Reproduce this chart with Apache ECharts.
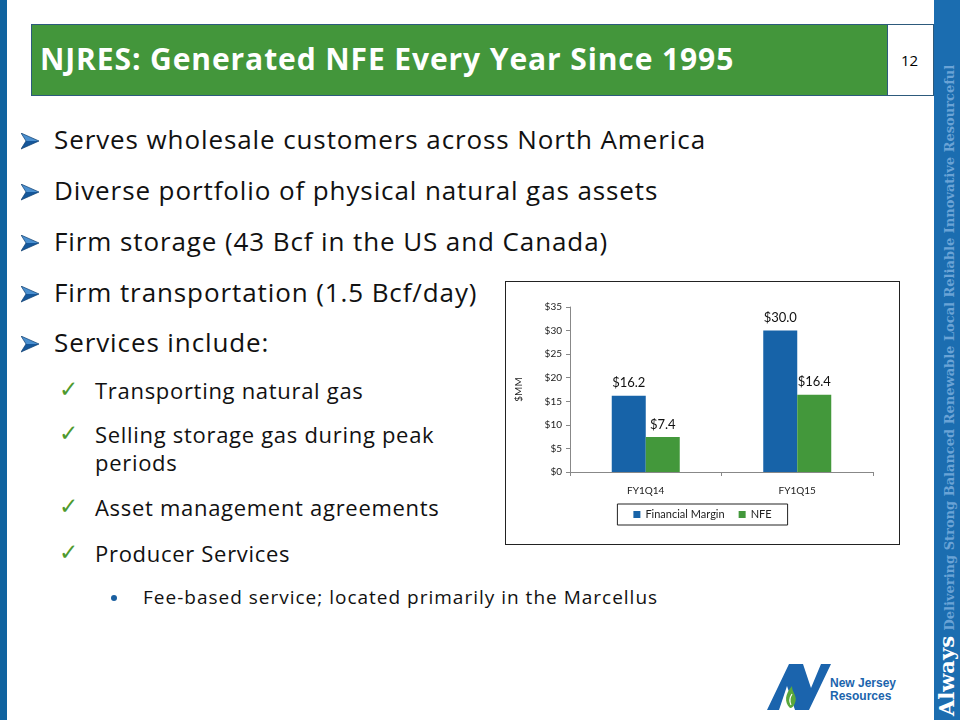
<!DOCTYPE html>
<html>
<head>
<meta charset="utf-8">
<script src="https://cdn.jsdelivr.net/npm/echarts@6/dist/echarts.min.js"></script>
<style>
    body { margin: 0; width: 960px; height: 720px; background: #fff; position: relative; overflow: hidden; font-family: "Open Sans", Lato, sans-serif; }
    .abs { position: absolute; white-space: nowrap; }
    #leftStrip { left: 0; top: 0; width: 7px; height: 720px; background: #10639f; }
    #rightStrip { left: 934px; top: 0; width: 26px; height: 720px; background: #1b6db0; }
    #header { left: 31px; top: 24px; width: 857px; height: 72px; background: #43963b; border: 1px solid #2d5a7c; box-sizing: border-box; }
    #title { left: 40px; top: 38px; color: #fff; font-weight: bold; font-size: 30px; font-family: "Open Sans", Lato, sans-serif; letter-spacing: 0.9px; }
    #pageBox { left: 888px; top: 24px; width: 46px; height: 72px; border: 1px solid #2d5a7c; border-left: none; box-sizing: border-box; }
    #pageNo { left: 901px; top: 50px; font-size: 15px; color: #000; }
    .l1 { font-size: 26px; color: #111; letter-spacing: 0.9px; }
    .l2 { font-size: 22px; color: #111; letter-spacing: 0.7px; }
    .check { font-size: 23px; color: #4e9a2e; font-family: "DejaVu Sans"; }
    .l3 { font-size: 19px; color: #111; letter-spacing: 1px; }
    #dot { left: 111px; top: 595px; width: 6px; height: 6px; border-radius: 3px; background: #1a5fa0; }
    #chart { left: 505px; top: 281px; width: 395px; height: 264px; border: 1px solid #222; box-sizing: border-box; }
    #vtext { left: 934px; top: 716px; transform-origin: 0 0; transform: rotate(-90deg); font-family: "DejaVu Serif", serif; font-weight: bold; line-height: 26px; }
</style>
</head>
<body>
<div class="abs" id="leftStrip"></div>
<div class="abs" id="rightStrip"></div>
<div class="abs" id="header"></div>
<div class="abs" id="title">NJRES: Generated NFE Every Year Since 1995</div>
<div class="abs" id="pageBox"></div>
<div class="abs" id="pageNo">12</div>

<svg width="0" height="0" style="position:absolute">
    <defs>
        <g id="arr">
            <polygon points="0,0 18,8 5,8" fill="#4a8fcf"/>
            <polygon points="0,16 18,8 5,8" fill="#15579a"/>
            <polygon points="0,0 18,8 0,16 5,8" fill="none" stroke="#0e3f70" stroke-width="0.7"/>
        </g>
    </defs>
</svg>
<svg class="abs" style="left:21px;top:133px" width="20" height="18"><use href="#arr"/></svg>
<div class="abs l1" style="left:54px;top:121px">Serves wholesale customers across North America</div>
<svg class="abs" style="left:21px;top:184px" width="20" height="18"><use href="#arr"/></svg>
<div class="abs l1" style="left:54px;top:172px">Diverse portfolio of physical natural gas assets</div>
<svg class="abs" style="left:21px;top:235px" width="20" height="18"><use href="#arr"/></svg>
<div class="abs l1" style="left:54px;top:223px">Firm storage (43 Bcf in the US and Canada)</div>
<svg class="abs" style="left:21px;top:286px" width="20" height="18"><use href="#arr"/></svg>
<div class="abs l1" style="left:54px;top:274px">Firm transportation (1.5 Bcf/day)</div>
<svg class="abs" style="left:21px;top:336px" width="20" height="18"><use href="#arr"/></svg>
<div class="abs l1" style="left:54px;top:324px">Services include:</div>

<div class="abs check" style="left:59px;top:376px">&#10003;</div>
<div class="abs l2" style="left:95px;top:375px">Transporting natural gas</div>
<div class="abs check" style="left:59px;top:420px">&#10003;</div>
<div class="abs l2" style="left:95px;top:419px">Selling storage gas during peak</div>
<div class="abs l2" style="left:95px;top:447px">periods</div>
<div class="abs check" style="left:59px;top:493px">&#10003;</div>
<div class="abs l2" style="left:95px;top:492px">Asset management agreements</div>
<div class="abs check" style="left:59px;top:539px">&#10003;</div>
<div class="abs l2" style="left:95px;top:538px">Producer Services</div>
<div class="abs" id="dot"></div>
<div class="abs l3" style="left:143px;top:584px">Fee-based service; located primarily in the Marcellus</div>

<div class="abs" id="vtext"><span style="color:#fff;font-size:21px">Always</span> <span style="color:#6aa3d6;font-size:13px">Delivering Strong Balanced Renewable Local Reliable Innovative Resourceful</span></div>

<svg class="abs" style="left:765px;top:662px" width="70" height="50" viewBox="0 0 70 50">
    <polygon points="2,48 24,2 38,2 46,26 56,2 66,2 44,48 30,48 22,24 14,48" fill="#1b64ad"/>
    <path d="M25,46 C19,40 20,32 27,24 C27,31 33,34 30,41 C29,44 27,46 25,46 Z" fill="#5aa83c"/>
    <path d="M26,43 C24,39 25,35 27,32" stroke="#fff" stroke-width="1.2" fill="none"/>
</svg>
<div class="abs" style="left:830px;top:677px;font-family:'Liberation Sans',Arial,sans-serif;font-weight:bold;font-size:12px;line-height:13px;color:#1b64ad">New Jersey<br>Resources</div>

<div class="abs" id="chart"></div>

<script>
    //数据
    var categories = ['FY1Q14', 'FY1Q15'];
    var marginData = [16.2, 30.0];
    var nfeData = [7.4, 16.4];
    var yTicks = [0, 5, 10, 15, 20, 25, 30, 35];

    var myChart = echarts.init(document.getElementById('chart'));
    var labelStyle = {
        show: true,
        position: 'top',
        distance: 6,
        color: '#111',
        fontSize: 13,
        fontFamily: 'Lato',
        formatter: function (p) {
            return '$' + p.value.toFixed(1);
        }
    };
    var option = {
        animation: false,
        grid: { left: 62, right: 26, top: 25, bottom: 72 },
        legend: {
            data: ['Financial Margin', 'NFE'],
            top: 222,
            left: 'center',
            borderColor: '#222',
            borderWidth: 1,
            padding: [5, 16, 5, 16],
            itemWidth: 7,
            itemHeight: 7,
            itemGap: 14,
            icon: 'rect',
            textStyle: { fontSize: 11, color: '#222', fontFamily: 'Lato' }
        },
        xAxis: {
            type: 'category',
            data: categories,
            axisLine: { lineStyle: { color: '#888' } },
            axisTick: { show: true, length: 4, lineStyle: { color: '#888' } },
            axisLabel: { fontSize: 10, color: '#222', margin: 14, fontFamily: 'Lato' }
        },
        yAxis: {
            type: 'value',
            name: '$MM',
            nameLocation: 'middle',
            nameGap: 46,
            nameRotate: 90,
            nameTextStyle: { fontSize: 10, color: '#222', fontFamily: 'Lato' },
            min: yTicks[0],
            max: yTicks[yTicks.length - 1],
            interval: yTicks[1] - yTicks[0],
            splitLine: { show: false },
            axisLine: { show: true, lineStyle: { color: '#888' } },
            axisTick: { show: true, length: 4, lineStyle: { color: '#888' } },
            axisLabel: {
                fontSize: 10, color: '#222', margin: 8, fontFamily: 'Lato',
                formatter: function (v) { return '$' + v; }
            }
        },
        series: [
            {
                name: 'Financial Margin',
                type: 'bar',
                data: marginData,
                barWidth: 34,
                barGap: '0%',
                itemStyle: { color: '#1763a8' },
                label: labelStyle
            },
            {
                name: 'NFE',
                type: 'bar',
                data: nfeData,
                barWidth: 34,
                barGap: '0%',
                itemStyle: { color: '#43983b' },
                label: labelStyle
            }
        ]
    };
    myChart.setOption(option);
</script>
</body>
</html>
